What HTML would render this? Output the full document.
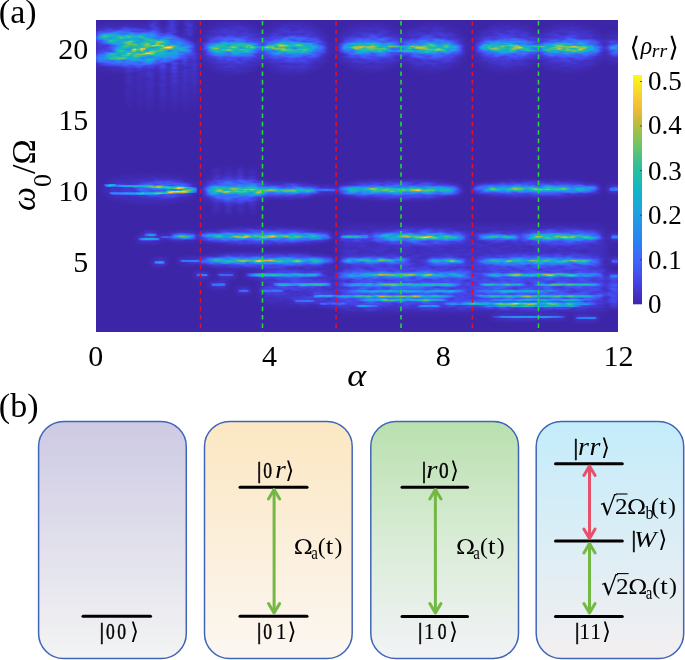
<!DOCTYPE html>
<html><head><meta charset="utf-8">
<style>
html,body{margin:0;padding:0;background:#fff;}
body{width:685px;height:660px;position:relative;overflow:hidden;}
svg{position:absolute;left:0;top:0;}
text{font-family:"Liberation Serif","DejaVu Serif",serif;fill:#000;}
.it{font-style:italic;}
.dv{font-family:"DejaVu Serif",serif;}
</style></head><body>
<svg width="685" height="660" viewBox="0 0 685 660">
<defs>
<filter id="b05" x="90" y="10" width="540" height="330" filterUnits="userSpaceOnUse" color-interpolation-filters="sRGB"><feGaussianBlur stdDeviation="0.6"/></filter>
<filter id="b1" x="90" y="10" width="540" height="330" filterUnits="userSpaceOnUse" color-interpolation-filters="sRGB"><feGaussianBlur stdDeviation="1.2"/></filter>
<filter id="b3" x="90" y="10" width="540" height="330" filterUnits="userSpaceOnUse" color-interpolation-filters="sRGB"><feGaussianBlur stdDeviation="2.5"/></filter>
<filter id="b4" x="90" y="10" width="540" height="330" filterUnits="userSpaceOnUse" color-interpolation-filters="sRGB"><feGaussianBlur stdDeviation="5"/></filter>
<filter id="pm" x="96" y="20" width="522" height="312" filterUnits="userSpaceOnUse" color-interpolation-filters="sRGB"><feTurbulence type="fractalNoise" baseFrequency="0.09 0.3" numOctaves="2" seed="7" result="n"/><feColorMatrix in="n" type="matrix" values="1 0 0 0 0 1 0 0 0 0 1 0 0 0 0 0 0 0 0 1" result="ng"/><feComposite in="SourceGraphic" in2="ng" operator="arithmetic" k1="1.5" k2="0.25" k3="0" k4="0" result="tx"/><feComponentTransfer in="tx"><feFuncR type="table" tableValues="0.2431 0.2510 0.2588 0.2706 0.2784 0.2667 0.2588 0.2510 0.2392 0.2196 0.1961 0.1765 0.1569 0.1490 0.1373 0.1255 0.1176 0.1059 0.0941 0.0824 0.0706 0.0980 0.1216 0.1451 0.1725 0.2431 0.3098 0.3804 0.4471 0.5333 0.6157 0.6980 0.7843 0.8549 0.9255 0.9804 0.9725 0.9647 0.9647 0.9725 0.9765"/><feFuncG type="table" tableValues="0.1490 0.1765 0.2039 0.2353 0.2627 0.2980 0.3373 0.3725 0.4078 0.4392 0.4706 0.5020 0.5333 0.5569 0.5843 0.6118 0.6353 0.6549 0.6745 0.6941 0.7137 0.7216 0.7333 0.7451 0.7529 0.7569 0.7608 0.7686 0.7725 0.7608 0.7529 0.7451 0.7333 0.7333 0.7373 0.7451 0.7961 0.8471 0.8902 0.9373 0.9843"/><feFuncB type="table" tableValues="0.6588 0.7216 0.7843 0.8471 0.9098 0.9294 0.9490 0.9647 0.9843 0.9765 0.9647 0.9569 0.9490 0.9333 0.9137 0.8941 0.8784 0.8510 0.8235 0.7961 0.7686 0.7294 0.6863 0.6431 0.6039 0.5490 0.4941 0.4392 0.3843 0.3412 0.2980 0.2549 0.2118 0.2196 0.2314 0.2353 0.2039 0.1725 0.1451 0.1137 0.0824"/></feComponentTransfer></filter>
<linearGradient id="vfade" x1="0" y1="0" x2="0" y2="1"><stop offset="0" stop-color="#fff"/><stop offset="1" stop-color="#fff" stop-opacity="0"/></linearGradient>
<linearGradient id="ramp" x1="0" y1="0" x2="1" y2="0"><stop offset="0" stop-color="#fff" stop-opacity="0.35"/><stop offset="0.6" stop-color="#fff" stop-opacity="0.7"/><stop offset="0.88" stop-color="#fff" stop-opacity="0.9"/><stop offset="1" stop-color="#fff" stop-opacity="0.15"/></linearGradient>
<linearGradient id="tp" x1="0" y1="0" x2="1" y2="0"><stop offset="0" stop-color="#fff" stop-opacity="0.1"/><stop offset="0.12" stop-color="#fff" stop-opacity="0.85"/><stop offset="0.5" stop-color="#fff" stop-opacity="1"/><stop offset="0.88" stop-color="#fff" stop-opacity="0.85"/><stop offset="1" stop-color="#fff" stop-opacity="0.1"/></linearGradient>
<linearGradient id="tp2" x1="0" y1="0" x2="1" y2="0"><stop offset="0" stop-color="#fff" stop-opacity="0"/><stop offset="0.3" stop-color="#fff" stop-opacity="0.9"/><stop offset="0.7" stop-color="#fff" stop-opacity="0.9"/><stop offset="1" stop-color="#fff" stop-opacity="0"/></linearGradient>
<clipPath id="hmclip"><rect x="96" y="20" width="522" height="312"/></clipPath>
<linearGradient id="cb" x1="0" y1="1" x2="0" y2="0">
<stop offset="0.00" stop-color="#3e26a8"/>
<stop offset="0.05" stop-color="#4234c8"/>
<stop offset="0.10" stop-color="#4743e8"/>
<stop offset="0.15" stop-color="#4256f2"/>
<stop offset="0.20" stop-color="#3d68fb"/>
<stop offset="0.25" stop-color="#3278f6"/>
<stop offset="0.30" stop-color="#2888f2"/>
<stop offset="0.35" stop-color="#2395e9"/>
<stop offset="0.40" stop-color="#1ea2e0"/>
<stop offset="0.45" stop-color="#18acd2"/>
<stop offset="0.50" stop-color="#12b6c4"/>
<stop offset="0.55" stop-color="#1fbbaf"/>
<stop offset="0.60" stop-color="#2cc09a"/>
<stop offset="0.65" stop-color="#4fc27e"/>
<stop offset="0.70" stop-color="#72c562"/>
<stop offset="0.75" stop-color="#9dc04c"/>
<stop offset="0.80" stop-color="#c8bb36"/>
<stop offset="0.85" stop-color="#ecbc3b"/>
<stop offset="0.90" stop-color="#f8cb34"/>
<stop offset="0.95" stop-color="#f6e325"/>
<stop offset="1.00" stop-color="#f9fb15"/>
</linearGradient>
<linearGradient id="g1" x1="0" y1="0" x2="0" y2="1"><stop offset="0" stop-color="#cdcae3"/><stop offset="1" stop-color="#f3f4f4"/></linearGradient>
<linearGradient id="g2" x1="0" y1="0" x2="0" y2="1"><stop offset="0" stop-color="#fbe7c2"/><stop offset="1" stop-color="#fbf7f2"/></linearGradient>
<linearGradient id="g3" x1="0" y1="0" x2="0" y2="1"><stop offset="0" stop-color="#b9e0ae"/><stop offset="0.5" stop-color="#d9ecd6"/><stop offset="1" stop-color="#f2f3f7"/></linearGradient>
<linearGradient id="g4" x1="0" y1="0" x2="0" y2="1"><stop offset="0" stop-color="#c4ecfb"/><stop offset="1" stop-color="#f3eff0"/></linearGradient>
</defs>

<!-- heatmap -->
<g clip-path="url(#hmclip)">
<g filter="url(#pm)">
<rect x="96" y="20" width="522" height="312" fill="#000"/>
<rect x="146" y="52" width="8" height="62" fill="url(#vfade)" opacity="0.080" filter="url(#b3)"/>
<rect x="160" y="52" width="6" height="62" fill="url(#vfade)" opacity="0.100" filter="url(#b3)"/>
<rect x="171" y="52" width="7" height="62" fill="url(#vfade)" opacity="0.110" filter="url(#b3)"/>
<rect x="182" y="52" width="6" height="62" fill="url(#vfade)" opacity="0.100" filter="url(#b3)"/>
<rect x="191" y="52" width="6" height="62" fill="url(#vfade)" opacity="0.080" filter="url(#b3)"/>
<rect x="126" y="52" width="7" height="62" fill="url(#vfade)" opacity="0.050" filter="url(#b3)"/>
<rect x="137" y="52" width="6" height="62" fill="url(#vfade)" opacity="0.060" filter="url(#b3)"/>
<rect x="150" y="18" width="8" height="18" fill="#fff" opacity="0.060" filter="url(#b3)"/>
<rect x="168" y="18" width="8" height="18" fill="#fff" opacity="0.070" filter="url(#b3)"/>
<rect x="185" y="18" width="8" height="18" fill="#fff" opacity="0.060" filter="url(#b3)"/>
<path d="M96,31 C115,27 150,27 172,35 C186,40 197,44 197,48 C197,52 186,56 172,61 C150,69 115,68 96,64 Z" fill="#fff" opacity="0.08" filter="url(#b4)"/>
<path d="M97,34 C115,30 145,31 170,37 C183,41 193,45 193,48 C193,51 183,55 170,59 C145,66 115,64 97,61 L97,55 C108,54 116,51 119,48 C116,45 108,42 97,40 Z" fill="#fff" opacity="0.3" filter="url(#b3)"/>
<path d="M97,35.0 L150,36.0 L150,39.0 L97,38.0 Z" fill="url(#tp)" opacity="0.38" filter="url(#b1)"/>
<path d="M103,39.5 L172,41.0 L172,44.0 L103,42.5 Z" fill="url(#tp)" opacity="0.38" filter="url(#b1)"/>
<path d="M118,44.75 L182,45.25 L182,48.75 L118,48.25 Z" fill="url(#tp)" opacity="0.45" filter="url(#b1)"/>
<path d="M112,49.5 L178,49.5 L178,52.5 L112,52.5 Z" fill="url(#tp)" opacity="0.43" filter="url(#b1)"/>
<path d="M104,53.5 L165,52.5 L165,55.5 L104,56.5 Z" fill="url(#tp)" opacity="0.4" filter="url(#b1)"/>
<path d="M98,56.75 L140,57.25 L140,59.75 L98,59.25 Z" fill="url(#tp)" opacity="0.35" filter="url(#b1)"/>
<path d="M125,43.0 L175,43.5 L175,45.5 L125,45.0 Z" fill="url(#tp)" opacity="0.32" filter="url(#b1)"/>
<ellipse cx="134.0" cy="50.0" rx="2.6" ry="2.4" fill="#fff" opacity="0.500" filter="url(#b05)"/>
<ellipse cx="143.0" cy="50.0" rx="2.6" ry="2.4" fill="#fff" opacity="0.500" filter="url(#b05)"/>
<ellipse cx="158.0" cy="46.0" rx="6.0" ry="1.8" fill="#fff" opacity="0.350" filter="url(#b05)"/>
<ellipse cx="168.0" cy="48.0" rx="5.0" ry="1.6" fill="#fff" opacity="0.300" filter="url(#b05)"/>
<ellipse cx="125.0" cy="54.5" rx="5.0" ry="1.5" fill="#fff" opacity="0.300" filter="url(#b05)"/>
<ellipse cx="150.0" cy="52.5" rx="5.0" ry="1.5" fill="#fff" opacity="0.300" filter="url(#b05)"/>
<ellipse cx="112.0" cy="41.5" rx="4.0" ry="1.3" fill="#fff" opacity="0.250" filter="url(#b05)"/>
<ellipse cx="233.0" cy="48.0" rx="31.0" ry="21.6" fill="#fff" opacity="0.070" filter="url(#b4)"/>
<ellipse cx="233.0" cy="48.0" rx="28.0" ry="9.5" fill="#fff" opacity="0.220" filter="url(#b3)"/>
<ellipse cx="232.0" cy="48.0" rx="23.5" ry="5.4" fill="#fff" opacity="0.310" filter="url(#b1)"/>
<ellipse cx="232.0" cy="48.0" rx="16.8" ry="2.7" fill="#fff" opacity="0.248" filter="url(#b05)"/>
<ellipse cx="293.0" cy="48.0" rx="34.0" ry="21.6" fill="#fff" opacity="0.070" filter="url(#b4)"/>
<ellipse cx="293.0" cy="48.0" rx="31.0" ry="9.5" fill="#fff" opacity="0.220" filter="url(#b3)"/>
<ellipse cx="290.0" cy="48.0" rx="26.0" ry="5.4" fill="#fff" opacity="0.325" filter="url(#b1)"/>
<ellipse cx="290.0" cy="48.0" rx="18.6" ry="2.7" fill="#fff" opacity="0.260" filter="url(#b05)"/>
<ellipse cx="371.0" cy="47.5" rx="33.0" ry="19.2" fill="#fff" opacity="0.070" filter="url(#b4)"/>
<ellipse cx="371.0" cy="47.5" rx="30.0" ry="8.4" fill="#fff" opacity="0.220" filter="url(#b3)"/>
<ellipse cx="368.0" cy="47.5" rx="25.2" ry="4.8" fill="#fff" opacity="0.325" filter="url(#b1)"/>
<ellipse cx="368.0" cy="47.5" rx="18.0" ry="2.4" fill="#fff" opacity="0.260" filter="url(#b05)"/>
<ellipse cx="431.0" cy="48.0" rx="33.0" ry="19.2" fill="#fff" opacity="0.070" filter="url(#b4)"/>
<ellipse cx="431.0" cy="48.0" rx="30.0" ry="8.4" fill="#fff" opacity="0.220" filter="url(#b3)"/>
<ellipse cx="432.0" cy="48.0" rx="25.2" ry="4.8" fill="#fff" opacity="0.350" filter="url(#b1)"/>
<ellipse cx="432.0" cy="48.0" rx="18.0" ry="2.4" fill="#fff" opacity="0.280" filter="url(#b05)"/>
<ellipse cx="508.0" cy="47.5" rx="33.0" ry="19.2" fill="#fff" opacity="0.070" filter="url(#b4)"/>
<ellipse cx="508.0" cy="47.5" rx="30.0" ry="8.4" fill="#fff" opacity="0.220" filter="url(#b3)"/>
<ellipse cx="505.0" cy="47.5" rx="25.2" ry="4.8" fill="#fff" opacity="0.325" filter="url(#b1)"/>
<ellipse cx="505.0" cy="47.5" rx="18.0" ry="2.4" fill="#fff" opacity="0.260" filter="url(#b05)"/>
<ellipse cx="569.5" cy="48.0" rx="34.5" ry="19.2" fill="#fff" opacity="0.070" filter="url(#b4)"/>
<ellipse cx="569.5" cy="48.0" rx="31.5" ry="8.4" fill="#fff" opacity="0.220" filter="url(#b3)"/>
<ellipse cx="568.0" cy="48.0" rx="26.5" ry="4.8" fill="#fff" opacity="0.350" filter="url(#b1)"/>
<ellipse cx="568.0" cy="48.0" rx="18.9" ry="2.4" fill="#fff" opacity="0.280" filter="url(#b05)"/>
<ellipse cx="615.5" cy="48.0" rx="9.5" ry="12.0" fill="#fff" opacity="0.070" filter="url(#b4)"/>
<ellipse cx="615.5" cy="48.0" rx="6.5" ry="5.2" fill="#fff" opacity="0.220" filter="url(#b3)"/>
<ellipse cx="615.5" cy="48.0" rx="5.5" ry="3.0" fill="#fff" opacity="0.125" filter="url(#b1)"/>
<ellipse cx="615.5" cy="48.0" rx="3.9" ry="1.5" fill="#fff" opacity="0.100" filter="url(#b05)"/>
<rect x="250.0" y="46.2" width="25.0" height="1.6" rx="0.8" fill="#fff" opacity="0.300" filter="url(#b05)"/>
<rect x="388.0" y="45.6" width="26.0" height="1.6" rx="0.8" fill="#fff" opacity="0.300" filter="url(#b05)"/>
<rect x="388.0" y="50.2" width="26.0" height="1.6" rx="0.8" fill="#fff" opacity="0.300" filter="url(#b05)"/>
<rect x="525.0" y="45.7" width="26.0" height="1.6" rx="0.8" fill="#fff" opacity="0.300" filter="url(#b05)"/>
<rect x="525.0" y="49.7" width="26.0" height="1.6" rx="0.8" fill="#fff" opacity="0.300" filter="url(#b05)"/>
<path d="M104,184.6 L150,185.6 L197,187.4 L197,190.2 L150,187.8 L106,186.4 Z" fill="url(#ramp)" opacity="0.75" filter="url(#b05)"/>
<path d="M109,192.6 L150,192.4 L197,189.6 L197,192.4 L150,194.6 L111,194.4 Z" fill="url(#ramp)" opacity="0.8" filter="url(#b05)"/>
<ellipse cx="165.0" cy="189.0" rx="28.0" ry="7.0" fill="#fff" opacity="0.160" filter="url(#b3)"/>
<ellipse cx="150.0" cy="189.0" rx="45.0" ry="10.0" fill="#fff" opacity="0.060" filter="url(#b4)"/>
<ellipse cx="112.0" cy="185.4" rx="4.0" ry="1.3" fill="#fff" opacity="0.350" filter="url(#b05)"/>
<ellipse cx="160.0" cy="186.6" rx="4.0" ry="1.3" fill="#fff" opacity="0.350" filter="url(#b05)"/>
<ellipse cx="176.0" cy="187.7" rx="4.0" ry="1.3" fill="#fff" opacity="0.350" filter="url(#b05)"/>
<ellipse cx="140.0" cy="193.3" rx="4.0" ry="1.3" fill="#fff" opacity="0.350" filter="url(#b05)"/>
<ellipse cx="170.0" cy="191.4" rx="4.0" ry="1.3" fill="#fff" opacity="0.350" filter="url(#b05)"/>
<ellipse cx="235.0" cy="190.0" rx="32.0" ry="11.0" fill="#fff" opacity="0.100" filter="url(#b4)"/>
<rect x="214.0" y="168.0" width="5.0" height="45.0" rx="2.0" fill="#fff" opacity="0.035" filter="url(#b3)"/>
<rect x="226.0" y="168.0" width="5.0" height="45.0" rx="2.0" fill="#fff" opacity="0.045" filter="url(#b3)"/>
<rect x="238.0" y="168.0" width="5.0" height="45.0" rx="2.0" fill="#fff" opacity="0.045" filter="url(#b3)"/>
<rect x="250.0" y="168.0" width="5.0" height="45.0" rx="2.0" fill="#fff" opacity="0.035" filter="url(#b3)"/>
<ellipse cx="614.0" cy="292.0" rx="6.0" ry="16.0" fill="#fff" opacity="0.120" filter="url(#b3)"/>
<rect x="338" y="266" width="268" height="42" rx="6" fill="#fff" opacity="0.09" filter="url(#b4)"/>
<rect x="262" y="268" width="72" height="34" rx="6" fill="#fff" opacity="0.05" filter="url(#b4)"/>
<rect x="340" y="228" width="265" height="40" rx="6" fill="#fff" opacity="0.04" filter="url(#b4)"/>
<ellipse cx="235.0" cy="190.5" rx="31.0" ry="9.1" fill="#fff" opacity="0.160" filter="url(#b3)"/>
<rect x="206.0" y="187.0" width="58.0" height="7.0" rx="3.5" fill="url(#tp)" opacity="0.391" filter="url(#b1)"/>
<rect x="208.9" y="188.8" width="52.2" height="3.5" rx="1.8" fill="url(#tp2)" opacity="0.332" filter="url(#b05)"/>
<ellipse cx="284.0" cy="190.4" rx="36.0" ry="5.9" fill="#fff" opacity="0.160" filter="url(#b3)"/>
<rect x="250.0" y="188.2" width="68.0" height="4.5" rx="2.2" fill="url(#tp)" opacity="0.417" filter="url(#b1)"/>
<rect x="253.4" y="189.3" width="61.2" height="2.2" rx="1.1" fill="url(#tp2)" opacity="0.375" filter="url(#b05)"/>
<ellipse cx="326.0" cy="190.0" rx="12.0" ry="2.5" fill="#fff" opacity="0.100" filter="url(#b3)"/>
<rect x="316.0" y="188.8" width="20.0" height="2.5" rx="1.2" fill="url(#tp)" opacity="0.177" filter="url(#b05)"/>
<ellipse cx="399.5" cy="190.0" rx="62.5" ry="7.8" fill="#fff" opacity="0.160" filter="url(#b3)"/>
<rect x="339.0" y="187.0" width="121.0" height="6.0" rx="3.0" fill="url(#tp)" opacity="0.417" filter="url(#b1)"/>
<rect x="345.1" y="188.5" width="108.9" height="3.0" rx="1.5" fill="url(#tp2)" opacity="0.375" filter="url(#b05)"/>
<ellipse cx="536.0" cy="189.0" rx="64.0" ry="6.5" fill="#fff" opacity="0.160" filter="url(#b3)"/>
<rect x="474.0" y="186.5" width="124.0" height="5.0" rx="2.5" fill="url(#tp)" opacity="0.404" filter="url(#b1)"/>
<rect x="480.2" y="187.8" width="111.6" height="2.5" rx="1.2" fill="url(#tp2)" opacity="0.353" filter="url(#b05)"/>
<ellipse cx="614.5" cy="189.0" rx="7.5" ry="3.0" fill="#fff" opacity="0.100" filter="url(#b3)"/>
<rect x="609.0" y="187.5" width="11.0" height="3.0" rx="1.5" fill="url(#tp)" opacity="0.227" filter="url(#b05)"/>
<ellipse cx="150.5" cy="234.8" rx="8.5" ry="2.0" fill="#fff" opacity="0.100" filter="url(#b3)"/>
<rect x="144.0" y="233.8" width="13.0" height="2.0" rx="1.0" fill="url(#tp)" opacity="0.252" filter="url(#b05)"/>
<rect x="144.7" y="234.2" width="11.7" height="1.2" rx="0.6" fill="url(#tp2)" opacity="0.097" filter="url(#b05)"/>
<ellipse cx="149.0" cy="239.2" rx="13.0" ry="2.2" fill="#fff" opacity="0.100" filter="url(#b3)"/>
<rect x="138.0" y="238.1" width="22.0" height="2.2" rx="1.1" fill="url(#tp)" opacity="0.303" filter="url(#b05)"/>
<rect x="139.1" y="238.6" width="19.8" height="1.2" rx="0.6" fill="url(#tp2)" opacity="0.183" filter="url(#b05)"/>
<ellipse cx="183.5" cy="236.4" rx="14.5" ry="3.5" fill="#fff" opacity="0.100" filter="url(#b3)"/>
<rect x="171.0" y="234.7" width="25.0" height="3.5" rx="1.8" fill="url(#tp)" opacity="0.379" filter="url(#b1)"/>
<rect x="172.2" y="235.5" width="22.5" height="1.8" rx="0.9" fill="url(#tp2)" opacity="0.311" filter="url(#b05)"/>
<ellipse cx="166.0" cy="237.0" rx="8.0" ry="1.5" fill="#fff" opacity="0.100" filter="url(#b3)"/>
<rect x="160.0" y="236.2" width="12.0" height="1.5" rx="0.8" fill="url(#tp)" opacity="0.126" filter="url(#b05)"/>
<ellipse cx="265.0" cy="236.5" rx="67.0" ry="6.5" fill="#fff" opacity="0.160" filter="url(#b3)"/>
<rect x="200.0" y="234.0" width="130.0" height="5.0" rx="2.5" fill="url(#tp)" opacity="0.417" filter="url(#b1)"/>
<rect x="206.5" y="235.2" width="117.0" height="2.5" rx="1.2" fill="url(#tp2)" opacity="0.375" filter="url(#b05)"/>
<ellipse cx="354.5" cy="236.8" rx="16.5" ry="3.0" fill="#fff" opacity="0.100" filter="url(#b3)"/>
<rect x="340.0" y="235.3" width="29.0" height="3.0" rx="1.5" fill="url(#tp)" opacity="0.316" filter="url(#b05)"/>
<rect x="341.4" y="236.1" width="26.1" height="1.5" rx="0.8" fill="url(#tp2)" opacity="0.204" filter="url(#b05)"/>
<ellipse cx="419.0" cy="237.0" rx="48.0" ry="6.5" fill="#fff" opacity="0.160" filter="url(#b3)"/>
<rect x="373.0" y="234.5" width="92.0" height="5.0" rx="2.5" fill="url(#tp)" opacity="0.417" filter="url(#b1)"/>
<rect x="377.6" y="235.8" width="82.8" height="2.5" rx="1.2" fill="url(#tp2)" opacity="0.375" filter="url(#b05)"/>
<ellipse cx="498.5" cy="237.0" rx="22.5" ry="3.5" fill="#fff" opacity="0.100" filter="url(#b3)"/>
<rect x="478.0" y="235.2" width="41.0" height="3.5" rx="1.8" fill="url(#tp)" opacity="0.353" filter="url(#b1)"/>
<rect x="480.1" y="236.1" width="36.9" height="1.8" rx="0.9" fill="url(#tp2)" opacity="0.268" filter="url(#b05)"/>
<ellipse cx="561.0" cy="237.0" rx="41.0" ry="6.5" fill="#fff" opacity="0.160" filter="url(#b3)"/>
<rect x="522.0" y="234.5" width="78.0" height="5.0" rx="2.5" fill="url(#tp)" opacity="0.404" filter="url(#b1)"/>
<rect x="525.9" y="235.8" width="70.2" height="2.5" rx="1.2" fill="url(#tp2)" opacity="0.353" filter="url(#b05)"/>
<ellipse cx="615.5" cy="237.0" rx="6.5" ry="3.0" fill="#fff" opacity="0.100" filter="url(#b3)"/>
<rect x="611.0" y="235.5" width="9.0" height="3.0" rx="1.5" fill="url(#tp)" opacity="0.227" filter="url(#b05)"/>
<ellipse cx="159.5" cy="262.2" rx="7.5" ry="2.5" fill="#fff" opacity="0.100" filter="url(#b3)"/>
<rect x="154.0" y="260.9" width="11.0" height="2.5" rx="1.2" fill="url(#tp)" opacity="0.278" filter="url(#b05)"/>
<rect x="154.6" y="261.6" width="9.9" height="1.2" rx="0.6" fill="url(#tp2)" opacity="0.140" filter="url(#b05)"/>
<ellipse cx="190.0" cy="261.0" rx="12.0" ry="2.0" fill="#fff" opacity="0.100" filter="url(#b3)"/>
<rect x="180.0" y="260.0" width="20.0" height="2.0" rx="1.0" fill="url(#tp)" opacity="0.189" filter="url(#b05)"/>
<ellipse cx="266.5" cy="260.8" rx="68.5" ry="5.9" fill="#fff" opacity="0.160" filter="url(#b3)"/>
<rect x="200.0" y="258.6" width="133.0" height="4.5" rx="2.2" fill="url(#tp)" opacity="0.417" filter="url(#b1)"/>
<rect x="206.7" y="259.7" width="119.7" height="2.2" rx="1.1" fill="url(#tp2)" opacity="0.375" filter="url(#b05)"/>
<ellipse cx="375.5" cy="260.5" rx="36.5" ry="3.5" fill="#fff" opacity="0.100" filter="url(#b3)"/>
<rect x="341.0" y="258.8" width="69.0" height="3.5" rx="1.8" fill="url(#tp)" opacity="0.379" filter="url(#b1)"/>
<rect x="344.4" y="259.6" width="62.1" height="1.8" rx="0.9" fill="url(#tp2)" opacity="0.311" filter="url(#b05)"/>
<ellipse cx="446.0" cy="261.0" rx="21.0" ry="3.5" fill="#fff" opacity="0.100" filter="url(#b3)"/>
<rect x="427.0" y="259.2" width="38.0" height="3.5" rx="1.8" fill="url(#tp)" opacity="0.353" filter="url(#b1)"/>
<rect x="428.9" y="260.1" width="34.2" height="1.8" rx="0.9" fill="url(#tp2)" opacity="0.268" filter="url(#b05)"/>
<ellipse cx="539.0" cy="261.0" rx="63.0" ry="5.2" fill="#fff" opacity="0.160" filter="url(#b3)"/>
<rect x="478.0" y="259.0" width="122.0" height="4.0" rx="2.0" fill="url(#tp)" opacity="0.379" filter="url(#b1)"/>
<rect x="484.1" y="260.0" width="109.8" height="2.0" rx="1.0" fill="url(#tp2)" opacity="0.311" filter="url(#b05)"/>
<ellipse cx="615.5" cy="261.0" rx="6.5" ry="2.5" fill="#fff" opacity="0.100" filter="url(#b3)"/>
<rect x="611.0" y="259.8" width="9.0" height="2.5" rx="1.2" fill="url(#tp)" opacity="0.177" filter="url(#b05)"/>
<ellipse cx="202.0" cy="275.0" rx="8.0" ry="2.0" fill="#fff" opacity="0.100" filter="url(#b3)"/>
<rect x="196.0" y="274.0" width="12.0" height="2.0" rx="1.0" fill="url(#tp)" opacity="0.177" filter="url(#b05)"/>
<ellipse cx="226.0" cy="275.0" rx="10.0" ry="2.0" fill="#fff" opacity="0.100" filter="url(#b3)"/>
<rect x="218.0" y="274.0" width="16.0" height="2.0" rx="1.0" fill="url(#tp)" opacity="0.177" filter="url(#b05)"/>
<ellipse cx="284.5" cy="275.0" rx="40.5" ry="3.0" fill="#fff" opacity="0.100" filter="url(#b3)"/>
<rect x="246.0" y="273.5" width="77.0" height="3.0" rx="1.5" fill="url(#tp)" opacity="0.353" filter="url(#b05)"/>
<rect x="249.8" y="274.2" width="69.3" height="1.5" rx="0.8" fill="url(#tp2)" opacity="0.268" filter="url(#b05)"/>
<ellipse cx="405.0" cy="275.0" rx="69.0" ry="3.5" fill="#fff" opacity="0.100" filter="url(#b3)"/>
<rect x="338.0" y="273.2" width="134.0" height="3.5" rx="1.8" fill="url(#tp)" opacity="0.391" filter="url(#b1)"/>
<rect x="344.7" y="274.1" width="120.6" height="1.8" rx="0.9" fill="url(#tp2)" opacity="0.332" filter="url(#b05)"/>
<ellipse cx="542.5" cy="275.0" rx="62.5" ry="3.0" fill="#fff" opacity="0.100" filter="url(#b3)"/>
<rect x="482.0" y="273.5" width="121.0" height="3.0" rx="1.5" fill="url(#tp)" opacity="0.379" filter="url(#b05)"/>
<rect x="488.1" y="274.2" width="108.9" height="1.5" rx="0.8" fill="url(#tp2)" opacity="0.311" filter="url(#b05)"/>
<ellipse cx="614.5" cy="276.0" rx="7.5" ry="2.5" fill="#fff" opacity="0.100" filter="url(#b3)"/>
<rect x="609.0" y="274.8" width="11.0" height="2.5" rx="1.2" fill="url(#tp)" opacity="0.177" filter="url(#b05)"/>
<ellipse cx="218.5" cy="284.6" rx="9.5" ry="2.5" fill="#fff" opacity="0.100" filter="url(#b3)"/>
<rect x="211.0" y="283.4" width="15.0" height="2.5" rx="1.2" fill="url(#tp)" opacity="0.252" filter="url(#b05)"/>
<rect x="211.8" y="284.0" width="13.5" height="1.2" rx="0.6" fill="url(#tp2)" opacity="0.097" filter="url(#b05)"/>
<ellipse cx="302.0" cy="284.6" rx="31.0" ry="3.0" fill="#fff" opacity="0.100" filter="url(#b3)"/>
<rect x="273.0" y="283.1" width="58.0" height="3.0" rx="1.5" fill="url(#tp)" opacity="0.353" filter="url(#b05)"/>
<rect x="275.9" y="283.9" width="52.2" height="1.5" rx="0.8" fill="url(#tp2)" opacity="0.268" filter="url(#b05)"/>
<ellipse cx="402.0" cy="284.7" rx="61.0" ry="3.0" fill="#fff" opacity="0.100" filter="url(#b3)"/>
<rect x="343.0" y="283.2" width="118.0" height="3.0" rx="1.5" fill="url(#tp)" opacity="0.353" filter="url(#b05)"/>
<rect x="348.9" y="283.9" width="106.2" height="1.5" rx="0.8" fill="url(#tp2)" opacity="0.268" filter="url(#b05)"/>
<ellipse cx="502.0" cy="284.7" rx="25.0" ry="2.5" fill="#fff" opacity="0.100" filter="url(#b3)"/>
<rect x="479.0" y="283.4" width="46.0" height="2.5" rx="1.2" fill="url(#tp)" opacity="0.316" filter="url(#b05)"/>
<rect x="481.3" y="284.1" width="41.4" height="1.2" rx="0.6" fill="url(#tp2)" opacity="0.204" filter="url(#b05)"/>
<ellipse cx="567.5" cy="284.7" rx="35.5" ry="2.5" fill="#fff" opacity="0.100" filter="url(#b3)"/>
<rect x="534.0" y="283.4" width="67.0" height="2.5" rx="1.2" fill="url(#tp)" opacity="0.328" filter="url(#b05)"/>
<rect x="537.4" y="284.1" width="60.3" height="1.2" rx="0.6" fill="url(#tp2)" opacity="0.225" filter="url(#b05)"/>
<ellipse cx="243.5" cy="290.7" rx="7.5" ry="2.0" fill="#fff" opacity="0.100" filter="url(#b3)"/>
<rect x="238.0" y="289.7" width="11.0" height="2.0" rx="1.0" fill="url(#tp)" opacity="0.151" filter="url(#b05)"/>
<ellipse cx="273.0" cy="290.7" rx="13.0" ry="2.0" fill="#fff" opacity="0.100" filter="url(#b3)"/>
<rect x="262.0" y="289.7" width="22.0" height="2.0" rx="1.0" fill="url(#tp)" opacity="0.202" filter="url(#b05)"/>
<ellipse cx="407.0" cy="291.3" rx="61.0" ry="2.5" fill="#fff" opacity="0.100" filter="url(#b3)"/>
<rect x="348.0" y="290.1" width="118.0" height="2.5" rx="1.2" fill="url(#tp)" opacity="0.252" filter="url(#b05)"/>
<rect x="353.9" y="290.7" width="106.2" height="1.2" rx="0.6" fill="url(#tp2)" opacity="0.097" filter="url(#b05)"/>
<ellipse cx="516.5" cy="291.3" rx="43.5" ry="2.5" fill="#fff" opacity="0.100" filter="url(#b3)"/>
<rect x="475.0" y="290.1" width="83.0" height="2.5" rx="1.2" fill="url(#tp)" opacity="0.252" filter="url(#b05)"/>
<rect x="479.1" y="290.7" width="74.7" height="1.2" rx="0.6" fill="url(#tp2)" opacity="0.097" filter="url(#b05)"/>
<ellipse cx="323.5" cy="296.2" rx="12.5" ry="2.5" fill="#fff" opacity="0.100" filter="url(#b3)"/>
<rect x="313.0" y="294.9" width="21.0" height="2.5" rx="1.2" fill="url(#tp)" opacity="0.316" filter="url(#b05)"/>
<rect x="314.1" y="295.6" width="18.9" height="1.2" rx="0.6" fill="url(#tp2)" opacity="0.204" filter="url(#b05)"/>
<ellipse cx="392.5" cy="296.3" rx="64.5" ry="2.5" fill="#fff" opacity="0.100" filter="url(#b3)"/>
<rect x="330.0" y="295.1" width="125.0" height="2.5" rx="1.2" fill="url(#tp)" opacity="0.366" filter="url(#b05)"/>
<rect x="336.2" y="295.7" width="112.5" height="1.2" rx="0.6" fill="url(#tp2)" opacity="0.289" filter="url(#b05)"/>
<ellipse cx="539.0" cy="296.3" rx="67.0" ry="2.5" fill="#fff" opacity="0.100" filter="url(#b3)"/>
<rect x="474.0" y="295.1" width="130.0" height="2.5" rx="1.2" fill="url(#tp)" opacity="0.353" filter="url(#b05)"/>
<rect x="480.5" y="295.7" width="117.0" height="1.2" rx="0.6" fill="url(#tp2)" opacity="0.268" filter="url(#b05)"/>
<ellipse cx="304.5" cy="301.0" rx="12.5" ry="2.0" fill="#fff" opacity="0.100" filter="url(#b3)"/>
<rect x="294.0" y="300.0" width="21.0" height="2.0" rx="1.0" fill="url(#tp)" opacity="0.151" filter="url(#b05)"/>
<ellipse cx="403.0" cy="300.0" rx="47.0" ry="2.5" fill="#fff" opacity="0.100" filter="url(#b3)"/>
<rect x="358.0" y="298.8" width="90.0" height="2.5" rx="1.2" fill="url(#tp)" opacity="0.341" filter="url(#b05)"/>
<rect x="362.5" y="299.4" width="81.0" height="1.2" rx="0.6" fill="url(#tp2)" opacity="0.247" filter="url(#b05)"/>
<ellipse cx="542.5" cy="300.0" rx="52.5" ry="2.0" fill="#fff" opacity="0.100" filter="url(#b3)"/>
<rect x="492.0" y="299.0" width="101.0" height="2.0" rx="1.0" fill="url(#tp)" opacity="0.252" filter="url(#b05)"/>
<rect x="497.1" y="299.4" width="90.9" height="1.2" rx="0.6" fill="url(#tp2)" opacity="0.097" filter="url(#b05)"/>
<ellipse cx="333.0" cy="303.7" rx="16.0" ry="2.0" fill="#fff" opacity="0.100" filter="url(#b3)"/>
<rect x="319.0" y="302.7" width="28.0" height="2.0" rx="1.0" fill="url(#tp)" opacity="0.202" filter="url(#b05)"/>
<ellipse cx="519.5" cy="303.8" rx="77.5" ry="2.5" fill="#fff" opacity="0.100" filter="url(#b3)"/>
<rect x="444.0" y="302.6" width="151.0" height="2.5" rx="1.2" fill="url(#tp)" opacity="0.379" filter="url(#b05)"/>
<rect x="451.6" y="303.2" width="135.9" height="1.2" rx="0.6" fill="url(#tp2)" opacity="0.311" filter="url(#b05)"/>
<ellipse cx="367.0" cy="306.0" rx="13.0" ry="2.0" fill="#fff" opacity="0.100" filter="url(#b3)"/>
<rect x="356.0" y="305.0" width="22.0" height="2.0" rx="1.0" fill="url(#tp)" opacity="0.252" filter="url(#b05)"/>
<rect x="357.1" y="305.4" width="19.8" height="1.2" rx="0.6" fill="url(#tp2)" opacity="0.097" filter="url(#b05)"/>
<ellipse cx="429.0" cy="306.0" rx="13.0" ry="2.0" fill="#fff" opacity="0.100" filter="url(#b3)"/>
<rect x="418.0" y="305.0" width="22.0" height="2.0" rx="1.0" fill="url(#tp)" opacity="0.252" filter="url(#b05)"/>
<rect x="419.1" y="305.4" width="19.8" height="1.2" rx="0.6" fill="url(#tp2)" opacity="0.097" filter="url(#b05)"/>
<ellipse cx="532.5" cy="306.0" rx="51.5" ry="2.0" fill="#fff" opacity="0.100" filter="url(#b3)"/>
<rect x="483.0" y="305.0" width="99.0" height="2.0" rx="1.0" fill="url(#tp)" opacity="0.316" filter="url(#b05)"/>
<rect x="487.9" y="305.4" width="89.1" height="1.2" rx="0.6" fill="url(#tp2)" opacity="0.204" filter="url(#b05)"/>
<ellipse cx="529.0" cy="316.9" rx="39.0" ry="2.0" fill="#fff" opacity="0.100" filter="url(#b3)"/>
<rect x="492.0" y="315.9" width="74.0" height="2.0" rx="1.0" fill="url(#tp)" opacity="0.252" filter="url(#b05)"/>
<rect x="495.7" y="316.3" width="66.6" height="1.2" rx="0.6" fill="url(#tp2)" opacity="0.097" filter="url(#b05)"/>
<ellipse cx="586.0" cy="318.0" rx="13.0" ry="2.0" fill="#fff" opacity="0.100" filter="url(#b3)"/>
<rect x="575.0" y="317.0" width="22.0" height="2.0" rx="1.0" fill="url(#tp)" opacity="0.202" filter="url(#b05)"/>
</g>
<line x1="200.5" y1="21" x2="200.5" y2="332" stroke="#e0102a" stroke-width="1.6" stroke-dasharray="4.6 3.8"/>
<line x1="336.1" y1="21" x2="336.1" y2="332" stroke="#e0102a" stroke-width="1.6" stroke-dasharray="4.6 3.8"/>
<line x1="472.4" y1="21" x2="472.4" y2="332" stroke="#e0102a" stroke-width="1.6" stroke-dasharray="4.6 3.8"/>
<line x1="262.5" y1="21" x2="262.5" y2="332" stroke="#20dd30" stroke-width="1.6" stroke-dasharray="4.6 3.8"/>
<line x1="401.0" y1="21" x2="401.0" y2="332" stroke="#20dd30" stroke-width="1.6" stroke-dasharray="4.6 3.8"/>
<line x1="538.5" y1="21" x2="538.5" y2="332" stroke="#20dd30" stroke-width="1.6" stroke-dasharray="4.6 3.8"/>
</g>

<!-- colorbar -->
<rect x="633" y="75" width="9" height="229.3" fill="url(#cb)"/>
<g stroke="#333" stroke-width="0.8">
<line x1="640" y1="81.5" x2="642" y2="81.5"/><line x1="640" y1="126" x2="642" y2="126"/><line x1="640" y1="170.6" x2="642" y2="170.6"/><line x1="640" y1="215.2" x2="642" y2="215.2"/><line x1="640" y1="259.8" x2="642" y2="259.8"/>
</g>

<!-- tick labels -->
<g font-size="30" text-anchor="end">
<text x="88.2" y="58.9">20</text>
<text x="88.2" y="130.2">15</text>
<text x="88.2" y="201.2">10</text>
<text x="88.2" y="272.3">5</text>
</g>
<g font-size="30" text-anchor="middle">
<text x="95.7" y="365.6">0</text>
<text x="269.5" y="365.6">4</text>
<text x="443.2" y="365.6">8</text>
<text x="618.5" y="365.6">12</text>
</g>
<g font-size="27">
<text x="648" y="90.2">0.5</text>
<text x="648" y="134.4">0.4</text>
<text x="648" y="179.8">0.3</text>
<text x="648" y="224.3">0.2</text>
<text x="648" y="268.7">0.1</text>
<text x="648" y="313.2">0</text>
</g>
<text x="-1.2" y="23.3" font-size="34">(a)</text>
<text x="-1.2" y="416.7" font-size="34">(b)</text>
<text transform="translate(347.2,386) scale(1.12,1)" font-size="32" class="it">α</text>
<g transform="translate(35.3,211) rotate(-90)">
<text x="0" y="0" font-size="34"><tspan class="it">ω</tspan><tspan font-size="26" dy="16">0</tspan><tspan dy="-16">/Ω</tspan></text>
</g>

<!-- diagram boxes -->
<g stroke="#4065b8" stroke-width="1.5">
<rect x="38.6" y="421.5" width="147.7" height="237" rx="25" fill="url(#g1)"/>
<rect x="204.5" y="421.5" width="147.7" height="237" rx="25" fill="url(#g2)"/>
<rect x="370.8" y="421.5" width="147.7" height="237" rx="25" fill="url(#g3)"/>
<rect x="536.2" y="421.5" width="147.5" height="237" rx="25" fill="url(#g4)"/>
</g>
<!-- levels -->
<g stroke="#000" stroke-width="3" stroke-linecap="round">
<line x1="83" y1="616.3" x2="150.5" y2="616.3"/>
<line x1="240" y1="487.2" x2="307" y2="487.2"/>
<line x1="240" y1="616.2" x2="307" y2="616.2"/>
<line x1="402" y1="487.3" x2="467.5" y2="487.3"/>
<line x1="402" y1="616.4" x2="467.5" y2="616.4"/>
<line x1="555.5" y1="463.8" x2="622.3" y2="463.8"/>
<line x1="555.5" y1="541" x2="622.3" y2="541"/>
<line x1="555.5" y1="616.6" x2="622.3" y2="616.6"/>
</g>
<!-- arrows -->
<g fill="none" stroke-width="3" stroke-linecap="round" stroke-linejoin="round">
<g stroke="#74b844">
<line x1="274.1" y1="490" x2="274.1" y2="612"/><polyline points="268.5,499 274.1,489.5 279.7,499"/><polyline points="268.5,603.5 274.1,613 279.7,603.5"/>
<line x1="435.4" y1="490" x2="435.4" y2="612"/><polyline points="429.8,499 435.4,489.5 441,499"/><polyline points="429.8,603.5 435.4,613 441,603.5"/>
<line x1="589.5" y1="544" x2="589.5" y2="612"/><polyline points="583.9,553 589.5,543.5 595.1,553"/><polyline points="583.9,603.5 589.5,613 595.1,603.5"/>
</g>
<g stroke="#e6506a">
<line x1="589.5" y1="467" x2="589.5" y2="538"/><polyline points="583.9,475.5 589.5,466 595.1,475.5"/><polyline points="583.9,529 589.5,538.5 595.1,529"/>
</g>
</g>
<!-- diagram labels -->
<text transform="translate(99.60,638.6)" font-size="22.5" stroke="#000" stroke-width="0.6">|</text>
<text transform="translate(105.90,638.6) scale(0.78,1)" font-size="22.5" stroke="#000" stroke-width="0.45">0</text>
<text transform="translate(117.30,638.6) scale(0.78,1)" font-size="22.5" stroke="#000" stroke-width="0.45">0</text>
<text transform="translate(130.10,638.6)" font-size="23" class="dv">⟩</text>
<text transform="translate(256.90,478.2)" font-size="22.5" stroke="#000" stroke-width="0.6">|</text>
<text transform="translate(263.30,478.2) scale(0.78,1)" font-size="22.5" stroke="#000" stroke-width="0.45">0</text>
<text transform="translate(275.22,478.2) scale(1.08,1)" font-size="25" class="it">r</text>
<text transform="translate(285.30,478.2)" font-size="23" class="dv">⟩</text>
<text transform="translate(256.90,638.5)" font-size="22.5" stroke="#000" stroke-width="0.6">|</text>
<text transform="translate(263.30,638.5) scale(0.78,1)" font-size="22.5" stroke="#000" stroke-width="0.45">0</text>
<text transform="translate(275.60,638.5)" font-size="22.5">1</text>
<text transform="translate(287.50,638.5)" font-size="23" class="dv">⟩</text>
<text transform="translate(293.72,553.6) scale(1.15,1)" font-size="20" class="dv">Ω</text>
<text transform="translate(311.15,558.5) scale(0.78,1)" font-size="19">a</text>
<text transform="translate(317.70,553.6)" font-size="23.7">(</text>
<text transform="translate(325.76,553.6) scale(1.2,1)" font-size="22.5">t</text>
<text transform="translate(334.60,553.6)" font-size="23.7">)</text>
<text transform="translate(421.70,478.2)" font-size="22.5" stroke="#000" stroke-width="0.6">|</text>
<text transform="translate(426.35,478.2) scale(1.15,1)" font-size="25" class="it">r</text>
<text transform="translate(439.03,478.2) scale(0.8580000000000001,1)" font-size="22.5" stroke="#000" stroke-width="0.45">0</text>
<text transform="translate(450.10,478.2)" font-size="23" class="dv">⟩</text>
<text transform="translate(417.90,638.5)" font-size="22.5" stroke="#000" stroke-width="0.6">|</text>
<text transform="translate(423.50,638.5)" font-size="22.5">1</text>
<text transform="translate(437.80,638.5) scale(0.78,1)" font-size="22.5" stroke="#000" stroke-width="0.45">0</text>
<text transform="translate(448.90,638.5)" font-size="23" class="dv">⟩</text>
<text transform="translate(455.92,553.6) scale(1.15,1)" font-size="20" class="dv">Ω</text>
<text transform="translate(473.35,558.5) scale(0.78,1)" font-size="19">a</text>
<text transform="translate(479.90,553.6)" font-size="23.7">(</text>
<text transform="translate(487.96,553.6) scale(1.2,1)" font-size="22.5">t</text>
<text transform="translate(496.80,553.6)" font-size="23.7">)</text>
<text transform="translate(573.60,454.6)" font-size="22.5" stroke="#000" stroke-width="0.6">|</text>
<text transform="translate(578.08,454.6) scale(1.12,1)" font-size="25" class="it">r</text>
<text transform="translate(589.48,454.6) scale(1.12,1)" font-size="25" class="it">r</text>
<text transform="translate(601.10,454.6)" font-size="23" class="dv">⟩</text>
<text transform="translate(600.10,515.2)" font-size="26" class="dv">√</text>
<text transform="translate(614.88,514.2) scale(1.12,1)" font-size="22.5">2</text>
<text transform="translate(627.12,514.2) scale(1.15,1)" font-size="20" class="dv">Ω</text>
<text transform="translate(645.60,519.4000000000001) scale(0.9,1)" font-size="18">b</text>
<text transform="translate(651.10,514.2)" font-size="23.7">(</text>
<text transform="translate(659.16,514.2) scale(1.2,1)" font-size="22.5">t</text>
<text transform="translate(668.00,514.2)" font-size="23.7">)</text>
<text transform="translate(631.60,547.4)" font-size="22.5" stroke="#000" stroke-width="0.6">|</text>
<text transform="translate(633.90,547.4) scale(1.2,1)" font-size="22.5" class="it">W</text>
<text transform="translate(658.30,547.4)" font-size="23" class="dv">⟩</text>
<text transform="translate(601.20,594.8)" font-size="26" class="dv">√</text>
<text transform="translate(615.98,593.8) scale(1.12,1)" font-size="22.5">2</text>
<text transform="translate(628.22,593.8) scale(1.15,1)" font-size="20" class="dv">Ω</text>
<text transform="translate(645.65,598.6999999999999) scale(0.78,1)" font-size="19">a</text>
<text transform="translate(652.20,593.8)" font-size="23.7">(</text>
<text transform="translate(660.26,593.8) scale(1.2,1)" font-size="22.5">t</text>
<text transform="translate(669.10,593.8)" font-size="23.7">)</text>
<text transform="translate(575.00,639.4)" font-size="22.5" stroke="#000" stroke-width="0.6">|</text>
<text transform="translate(579.00,639.4)" font-size="22.5">1</text>
<text transform="translate(590.00,639.4)" font-size="22.5">1</text>
<text transform="translate(601.90,639.4)" font-size="23" class="dv">⟩</text>
<text transform="translate(629.60,55.5)" font-size="27" class="dv">⟨</text>
<text transform="translate(640.87,53.6) scale(0.95,1)" font-size="25" class="it">ρ</text>
<text transform="translate(651.83,56.9) scale(1.1,1)" font-size="18" class="it">r</text>
<text transform="translate(659.53,56.9) scale(1.1,1)" font-size="18" class="it">r</text>
<text transform="translate(668.30,55.5)" font-size="27" class="dv">⟩</text>
<line x1="615.9" y1="494.0" x2="627.5" y2="494.0" stroke="#000" stroke-width="1.1"/>
<line x1="617.0" y1="573.6" x2="628.6" y2="573.6" stroke="#000" stroke-width="1.1"/>
</svg>
</body></html>
